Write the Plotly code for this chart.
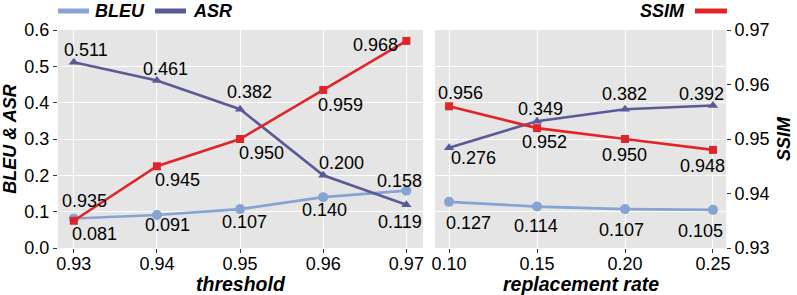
import plotly.graph_objects as go

# ---------------- data ----------------
thresholds = [0.93, 0.94, 0.95, 0.96, 0.97]
bleu_thr = [0.081, 0.091, 0.107, 0.140, 0.158]
asr_thr = [0.511, 0.461, 0.382, 0.200, 0.119]
ssim_thr = [0.935, 0.945, 0.950, 0.959, 0.968]

rates = [0.10, 0.15, 0.20, 0.25]
bleu_rate = [0.127, 0.114, 0.107, 0.105]
asr_rate = [0.276, 0.349, 0.382, 0.392]
ssim_rate = [0.956, 0.952, 0.950, 0.948]

left_ticks = [0.0, 0.1, 0.2, 0.3, 0.4, 0.5, 0.6]
ssim_ticks = [0.93, 0.94, 0.95, 0.96, 0.97]

# ---------------- label offsets (pixels, dx right, dy down) ----------------
off_bleu_thr = [(21, 15), (11, 10), (4, 13), (1, 13), (-7, -10)]
off_asr_thr = [(12, -12), (9, -11), (9, -17), (18, -12), (-6, 17)]
off_ssim_thr = [(11, -20), (21, 14), (21, 14), (17, 15), (-31, 4)]
off_bleu_rate = [(19, 21), (-1, 19), (-4, 21), (-12, 21)]
off_asr_rate = [(24, 10), (3, -12), (-1, -15), (-11, -12)]
off_ssim_rate = [(11, -13), (7, 14), (-1, 16), (-10, 16)]

# ---------------- styles ----------------
C_BLEU = "#86A3D4"
C_ASR = "#5A5A96"
C_SSIM = "#E0252A"
BG = "#E5E5E5"
FONT = "Liberation Sans, Arial, sans-serif"
W, H = 797, 295

def px_x(p):
    return p / W

def px_y(p):
    return 1 - p / H

fig = go.Figure()

def series(x, y, xa, ya, color, symbol, size):
    fig.add_trace(go.Scatter(
        x=x, y=y, xaxis=xa, yaxis=ya, mode="lines+markers",
        line=dict(color=color, width=2.6),
        marker=dict(color=color, symbol=symbol, size=size),
        showlegend=False, hoverinfo="skip", cliponaxis=False))

series(thresholds, bleu_thr, "x", "y", C_BLEU, "circle", 10)
series(thresholds, asr_thr, "x", "y", C_ASR, "triangle-up", 9)
series(thresholds, ssim_thr, "x", "y2", C_SSIM, "square", 8)
series(rates, bleu_rate, "x2", "y3", C_BLEU, "circle", 10)
series(rates, asr_rate, "x2", "y3", C_ASR, "triangle-up", 9)
series(rates, ssim_rate, "x2", "y4", C_SSIM, "square", 8)

annotations = []
shapes = []

def labels(x, y, offs, xref, yref):
    for xi, yi, (dx, dy) in zip(x, y, offs):
        annotations.append(dict(
            x=xi, y=yi, xref=xref, yref=yref, text=f"{yi:.3f}", showarrow=False,
            xshift=dx, yshift=-dy, font=dict(family=FONT, size=18, color="black")))

labels(thresholds, bleu_thr, off_bleu_thr, "x", "y")
labels(thresholds, asr_thr, off_asr_thr, "x", "y")
labels(thresholds, ssim_thr, off_ssim_thr, "x", "y2")
labels(rates, bleu_rate, off_bleu_rate, "x2", "y3")
labels(rates, asr_rate, off_asr_rate, "x2", "y3")
labels(rates, ssim_rate, off_ssim_rate, "x2", "y4")

tickfont = dict(family=FONT, size=18, color="black")
titlefont = dict(family=FONT, size=18, color="black", weight="bold", style="italic")
xtitlefont = dict(family=FONT, size=19.5, color="black", weight="bold", style="italic")

ydom = [px_y(248), px_y(30)]
x1dom = [px_x(58), px_x(423)]
x2dom = [px_x(435), px_x(726)]

# ---------------- legend (keys + text) ----------------
legend_items = [
    # name, colour, key x0, key x1, text x, text anchor
    ("BLEU", C_BLEU, 58, 89, 93, "left"),
    ("ASR", C_ASR, 155, 186, 191, "left"),
    ("SSIM", C_SSIM, 695, 727, 687, "right"),
]
LEG_Y = 11
for name, color, k0, k1, tx, anchor in legend_items:
    shapes.append(dict(type="line", xref="paper", yref="paper",
                       x0=px_x(k0), x1=px_x(k1), y0=px_y(LEG_Y), y1=px_y(LEG_Y),
                       line=dict(color=color, width=5)))
    annotations.append(dict(x=px_x(tx), y=px_y(LEG_Y), xref="paper", yref="paper",
                            xanchor=anchor, yanchor="middle", text=name,
                            showarrow=False, font=titlefont))

# x-axis titles
annotations.append(dict(x=(x1dom[0] + x1dom[1]) / 2, y=px_y(284), xref="paper", yref="paper",
                        xanchor="center", yanchor="middle", text="threshold",
                        showarrow=False, font=xtitlefont))
annotations.append(dict(x=(x2dom[0] + x2dom[1]) / 2, y=px_y(284), xref="paper", yref="paper",
                        xanchor="center", yanchor="middle", text="replacement rate",
                        showarrow=False, font=xtitlefont))

common_x = dict(showgrid=True, gridcolor="white", gridwidth=1.2, zeroline=False,
                ticks="outside", ticklen=4, tickcolor="#333333", tickwidth=1,
                tickfont=tickfont, showline=False, automargin=False,
                ticklabelstandoff=-5)

fig.update_layout(
    width=W, height=H,
    margin=dict(l=0, r=0, t=0, b=0, autoexpand=False),
    paper_bgcolor="white", plot_bgcolor=BG,
    font=dict(family=FONT),
    showlegend=False,
    xaxis=dict(common_x, domain=x1dom, range=[0.9281, 0.9720], anchor="y",
               tickvals=thresholds, ticktext=[f"{v:.2f}" for v in thresholds]),
    xaxis2=dict(common_x, domain=x2dom, range=[0.0920, 0.2574], anchor="y3",
                tickvals=rates, ticktext=[f"{v:.2f}" for v in rates]),
    yaxis=dict(domain=ydom, range=[0, 0.6], anchor="x",
               tickvals=left_ticks, ticktext=[f"{v:.1f}" for v in left_ticks],
               showgrid=True, gridcolor="white", gridwidth=1.2, zeroline=False,
               ticks="outside", ticklen=4, tickcolor="#333333", tickfont=tickfont,
               automargin=False,
               title=dict(text="BLEU & ASR", font=titlefont, standoff=6)),
    yaxis2=dict(domain=ydom, range=[0.93, 0.97], anchor="x", overlaying="y",
                side="right", showgrid=False, showticklabels=False, ticks="",
                zeroline=False, automargin=False),
    yaxis3=dict(domain=ydom, range=[0, 0.6], anchor="x2",
                tickvals=left_ticks, showticklabels=False, ticks="",
                showgrid=True, gridcolor="white", gridwidth=1.2, zeroline=False,
                automargin=False),
    yaxis4=dict(domain=ydom, range=[0.93, 0.97], anchor="x2", overlaying="y3",
                side="right", showgrid=False, zeroline=False,
                tickvals=ssim_ticks, ticktext=[f"{v:.2f}" for v in ssim_ticks],
                ticks="outside", ticklen=4, tickcolor="#333333", tickfont=tickfont,
                automargin=False,
                title=dict(text="SSIM", font=titlefont, standoff=8)),
    annotations=annotations,
    shapes=shapes,
)

fig.write_html("out.html", config={"displayModeBar": False},
               post_script="document.body.style.margin='0';document.body.style.overflow='hidden';")
